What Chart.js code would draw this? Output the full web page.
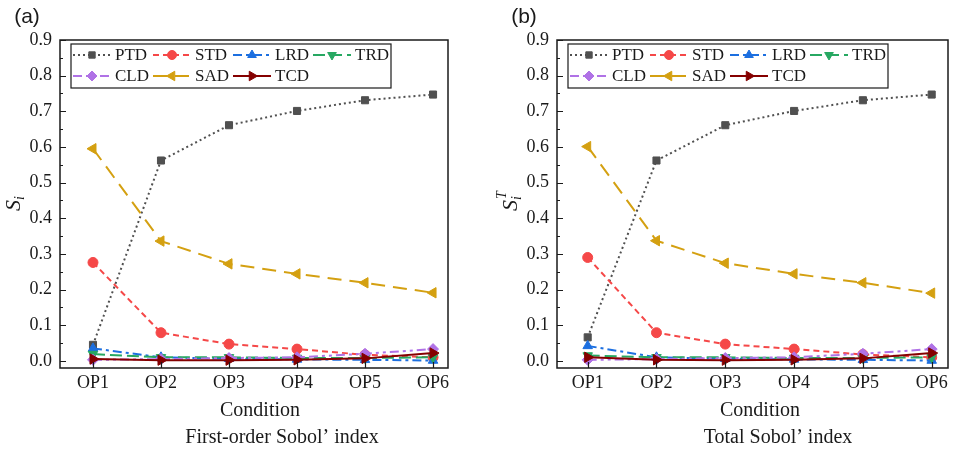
<!DOCTYPE html>
<html>
<head>
<meta charset="utf-8">
<script src="https://cdn.jsdelivr.net/npm/chart.js@4/dist/chart.umd.min.js"></script>
<style>
body{margin:0;background:#fff;width:962px;height:462px;overflow:hidden;position:relative}
.panel{position:absolute;top:0;width:481px;height:462px}
</style>
</head>
<body>
<div class="panel" style="left:0"><canvas id="chartA" width="481" height="462"></canvas></div>
<div class="panel" style="left:481px"><canvas id="chartB" width="481" height="462"></canvas></div>
<script>
const categories = ['OP1','OP2','OP3','OP4','OP5','OP6'];
const seriesNames = ['PTD','STD','LRD','TRD','CLD','SAD','TCD'];
const yTicks = [0,0.1,0.2,0.3,0.4,0.5,0.6,0.7,0.8,0.9];

// (a) first-order Sobol' index
const firstPTD = [0.045,0.562,0.661,0.701,0.731,0.747];
const firstSTD = [0.276,0.079,0.047,0.033,0.017,0.010];
const firstLRD = [0.035,0.010,0.006,0.004,0.003,0.001];
const firstTRD = [0.019,0.010,0.010,0.008,0.008,0.010];
const firstCLD = [0.003,0.005,0.008,0.010,0.020,0.033];
const firstSAD = [0.595,0.336,0.272,0.244,0.219,0.191];
const firstTCD = [0.005,0.002,0.002,0.003,0.007,0.022];

// (b) total Sobol' index
const totalPTD = [0.066,0.562,0.661,0.701,0.731,0.747];
const totalSTD = [0.290,0.079,0.047,0.033,0.018,0.010];
const totalLRD = [0.042,0.010,0.006,0.004,0.003,0.001];
const totalTRD = [0.015,0.010,0.010,0.008,0.008,0.010];
const totalCLD = [0.003,0.005,0.008,0.010,0.020,0.033];
const totalSAD = [0.601,0.337,0.274,0.244,0.219,0.190];
const totalTCD = [0.010,0.003,0.002,0.003,0.007,0.022];

// line look of every series, same order as seriesNames
const looks = [
  {color:'#505050', dash:[2,3], point:'rect', radius:5, rot:0},
  {color:'#f54848', dash:[6,4], point:'circle', radius:5, rot:0},
  {color:'#1c6fe0', dash:[9,4,3,4], point:'triangle', radius:5.5, rot:0},
  {color:'#27a862', dash:[12,5], point:'triangle', radius:5.5, rot:180},
  {color:'#b072e6', dash:[9,4,3,4,3,4], point:'rectRot', radius:5.5, rot:0},
  {color:'#d4a011', dash:[14,8], point:'triangle', radius:6, rot:270},
  {color:'#850000', dash:[], point:'triangle', radius:6, rot:90}
];

const serif = 'Liberation Serif';

function drawMarker(ctx, look, x, y){
  if (Chart.helpers && Chart.helpers.drawPoint) {
    ctx.fillStyle = look.color;
    ctx.strokeStyle = look.color;
    ctx.lineWidth = 1;
    ctx.setLineDash([]);
    Chart.helpers.drawPoint(ctx, {pointStyle:look.point, radius:look.radius - 0.5, rotation:look.rot, borderWidth:1}, x, y);
  }
}

const decor = {
  id:'decor',
  afterDraw(chart, args, o){
    const {ctx, chartArea:a, scales:{x, y}} = chart;
    ctx.save();
    // frame
    ctx.setLineDash([]);
    ctx.strokeStyle = '#1a1a1a';
    ctx.lineWidth = 1.5;
    ctx.strokeRect(a.left, a.top, a.right - a.left, a.bottom - a.top);
    // inward ticks
    ctx.lineWidth = 1.2;
    ctx.beginPath();
    for (let k = 0; k <= 18; k++) {
      const py = Math.round(y.getPixelForValue(k * 0.05)) + 0.5;
      ctx.moveTo(a.left, py);
      ctx.lineTo(a.left + (k % 2 === 0 ? 6 : 3), py);
    }
    categories.forEach((c, i) => {
      const px = Math.round(x.getPixelForValue(i + 1)) + 0.5;
      ctx.moveTo(px, a.bottom);
      ctx.lineTo(px, a.bottom - 6);
    });
    ctx.stroke();

    // legend
    const lx = a.left + 11, ly = a.top + 4, lw = 320, lh = 44;
    ctx.fillStyle = '#fff';
    ctx.fillRect(lx, ly, lw, lh);
    ctx.strokeStyle = '#1a1a1a';
    ctx.lineWidth = 1.2;
    ctx.strokeRect(lx, ly, lw, lh);
    ctx.font = '17px "' + serif + '"';
    ctx.textBaseline = 'middle';
    ctx.textAlign = 'left';
    seriesNames.forEach((name, i) => {
      const row = i < 4 ? 0 : 1;
      const col = i < 4 ? i : i - 4;
      const sx = lx + 2 + col * 80;
      const sy = ly + 11 + row * 21;
      const look = looks[i];
      ctx.strokeStyle = look.color;
      ctx.lineWidth = 2;
      ctx.setLineDash(look.dash);
      ctx.beginPath();
      ctx.moveTo(sx, sy);
      ctx.lineTo(sx + 38, sy);
      ctx.stroke();
      drawMarker(ctx, look, sx + 19, sy);
      ctx.fillStyle = '#1a1a1a';
      ctx.fillText(name, sx + 42, sy + 1);
    });

    // panel letter
    ctx.fillStyle = '#1a1a1a';
    ctx.font = '21px "Liberation Sans"';
    ctx.textAlign = 'center';
    ctx.fillText(o.letter, a.left - 33, 17);

    // x title and caption
    ctx.font = '20px "' + serif + '"';
    ctx.fillText('Condition', o.condX, 411);
    ctx.fillText(o.caption, o.capX, 438);

    // y title: italic S with index
    ctx.translate(a.left - 46, (a.top + a.bottom) / 2 - 2);
    ctx.rotate(-Math.PI / 2);
    ctx.textAlign = 'left';
    ctx.font = 'italic 22px "' + serif + '"';
    const sw = ctx.measureText('S').width;
    const total = sw + 7;
    ctx.fillText('S', -total / 2, 0);
    ctx.font = 'italic 14px "' + serif + '"';
    ctx.fillText('i', -total / 2 + sw, 6);
    if (o.sup) ctx.fillText(o.sup, -total / 2 + sw + 1, -9);
    ctx.restore();
  }
};

function buildChart(id, values, opts){
  const datasets = seriesNames.map((name, i) => ({
    label: name,
    data: categories.map((c, j) => ({x: j + 1, y: values[i][j]})),
    borderColor: looks[i].color,
    backgroundColor: looks[i].color,
    borderWidth: 2,
    borderDash: looks[i].dash,
    pointStyle: looks[i].point,
    pointRadius: looks[i].radius,
    pointRotation: looks[i].rot,
    pointBorderWidth: 1,
    tension: 0,
    order: seriesNames.length - i
  }));

  return new Chart(document.getElementById(id), {
    type: 'line',
    data: {datasets: datasets},
    options: {
      responsive: false,
      animation: false,
      layout: {padding: {top: 40, right: opts.padRight, bottom: 0, left: 0}},
      plugins: {legend: {display: false}, tooltip: {enabled: false}, decor: opts},
      scales: {
        x: {
          type: 'linear',
          min: opts.xMin,
          max: opts.xMax,
          grid: {display: false},
          border: {display: false},
          afterBuildTicks: s => { s.ticks = categories.map((c, i) => ({value: i + 1})); },
          afterFit: s => { s.height = 94; },
          ticks: {
            callback: v => categories[Math.round(v) - 1],
            font: {family: serif, size: 18},
            color: '#1a1a1a',
            padding: -4,
            maxRotation: 0,
            autoSkip: false
          }
        },
        y: {
          min: -0.02,
          max: 0.9,
          grid: {display: false},
          border: {display: false},
          afterBuildTicks: s => { s.ticks = yTicks.map(v => ({value: v})); },
          afterFit: s => { s.width = opts.axisWidth; },
          ticks: {
            callback: v => v.toFixed(1),
            font: {family: serif, size: 18},
            color: '#1a1a1a',
            padding: 0
          }
        }
      }
    },
    plugins: [decor]
  });
}

buildChart('chartA',
  [firstPTD, firstSTD, firstLRD, firstTRD, firstCLD, firstSAD, firstTCD],
  {letter: '(a)', caption: 'First-order Sobol\u2019 index', sup: '', condX: 260, capX: 282,
   axisWidth: 60, padRight: 33, xMin: 0.515, xMax: 6.22});

buildChart('chartB',
  [totalPTD, totalSTD, totalLRD, totalTRD, totalCLD, totalSAD, totalTCD],
  {letter: '(b)', caption: 'Total Sobol\u2019 index', sup: 'T', condX: 279, capX: 297,
   axisWidth: 76, padRight: 14, xMin: 0.554, xMax: 6.237});
</script>
</body>
</html>
